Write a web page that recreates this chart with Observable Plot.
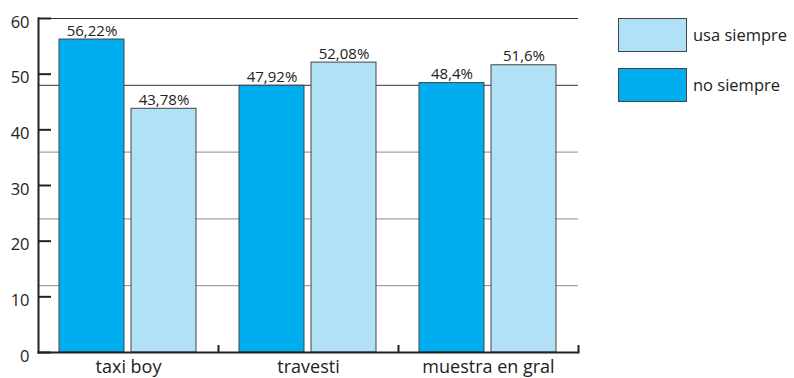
<!DOCTYPE html>
<html>
<head>
<meta charset="utf-8">
<script src="https://cdn.jsdelivr.net/npm/d3@7"></script>
<script src="https://cdn.jsdelivr.net/npm/@observablehq/plot@0.6"></script>
<style>
  html, body { margin: 0; padding: 0; background: #fff; }
  #wrap { position: relative; width: 794px; height: 378px; overflow: hidden; font-family: "Open Sans", sans-serif; }
  .legend { position: absolute; left: 618px; font-size: 16.5px; color: #222; }
  .legend .item { position: absolute; left: 0; white-space: nowrap; }
  .legend .sw { position: absolute; left: 0; width: 69px; height: 34px; border: 1px solid #444; box-sizing: border-box; }
  .legend .lab { position: absolute; left: 75px; line-height: 34px; }
</style>
</head>
<body>
<div id="wrap"></div>
<script>
const categories = ["taxi boy", "travesti", "muestra en gral"];
const noSiempre = [56.22, 47.92, 48.4];
const usaSiempre = [43.78, 52.08, 51.6];
const noSiempreLabels = ["56,22%", "47,92%", "48,4%"];
const usaSiempreLabels = ["43,78%", "52,08%", "51,6%"];
const yTicks = [0, 10, 20, 30, 40, 50, 60];
const gridLight = [12, 24, 36];
const gridDark = [48, 60];
const seriesNames = ["usa siempre", "no siempre"];
const seriesColors = ["#B1E1F6", "#00AEEF"];

const dark = categories.map((c, i) => ({cat: c, v: noSiempre[i], label: noSiempreLabels[i]}));
const light = categories.map((c, i) => ({cat: c, v: usaSiempre[i], label: usaSiempreLabels[i]}));

const chart = Plot.plot({
  width: 794,
  height: 378,
  marginLeft: 38,
  marginRight: 216,
  marginTop: 18,
  marginBottom: 26,
  style: {fontFamily: "'Open Sans', sans-serif", color: "#222", background: "transparent"},
  x: {domain: categories, padding: 0, axis: null},
  y: {domain: [0, 60], axis: null},
  marks: [
    Plot.ruleY(gridLight, {stroke: "#8a8a8a", strokeWidth: 1}),
    Plot.ruleY(gridDark, {stroke: "#333", strokeWidth: 1}),
    Plot.barY(dark, {x: "cat", y: "v", fill: seriesColors[1], stroke: "#444", strokeWidth: 1, insetLeft: 21, insetRight: 94}),
    Plot.barY(light, {x: "cat", y: "v", fill: seriesColors[0], stroke: "#444", strokeWidth: 1, insetLeft: 93, insetRight: 22}),
    Plot.text(dark, {x: "cat", y: "v", text: "label", dx: -36.5, dy: -4, lineAnchor: "bottom", fontSize: 15, fill: "#222"}),
    Plot.text(light, {x: "cat", y: "v", text: "label", dx: 35.5, dy: -4, lineAnchor: "bottom", fontSize: 15, fill: "#222"}),
    Plot.axisY({ticks: yTicks, tickSize: 0, tickPadding: 9, dy: 4, fontSize: 16.5, label: null, fill: "#222"}),
    Plot.tickY(yTicks, {y: d => d, x: () => categories[0], insetRight: 167, stroke: "#222", strokeWidth: 2}),
    Plot.axisX({tickSize: -7, dx: 90, tickFormat: () => "", label: null, stroke: "#222", strokeWidth: 2}),
    Plot.axisX({tickSize: 0, tickPadding: 8, fontSize: 18, label: null, fill: "#222"}),
    Plot.frame({anchor: "left", stroke: "#222", strokeWidth: 2}),
    Plot.frame({anchor: "bottom", stroke: "#222", strokeWidth: 2})
  ]
});
const wrap = document.getElementById("wrap");
wrap.appendChild(chart);

const legend = document.createElement("div");
legend.className = "legend";
legend.style.top = "18px";
seriesNames.forEach((name, i) => {
  const item = document.createElement("div");
  item.className = "item";
  item.style.top = (i * 50) + "px";
  const sw = document.createElement("div");
  sw.className = "sw";
  sw.style.background = seriesColors[i];
  const lab = document.createElement("div");
  lab.className = "lab";
  lab.textContent = name;
  item.appendChild(sw);
  item.appendChild(lab);
  legend.appendChild(item);
});
wrap.appendChild(legend);
</script>
</body>
</html>
